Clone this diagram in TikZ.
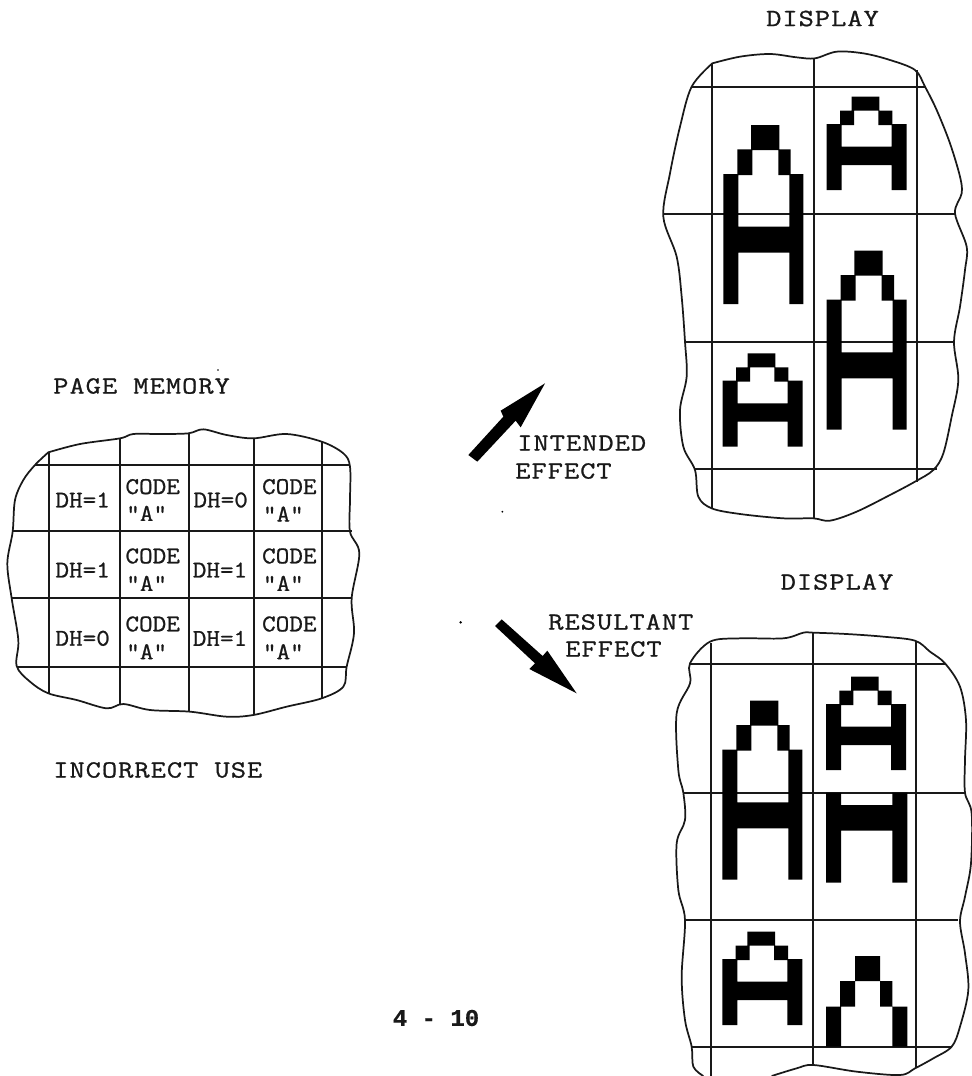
\documentclass[tikz,border=0pt]{standalone}
\usepackage{fontspec}
\newfontfamily\labelfont{Latin Modern Mono}[LetterSpace=4,FakeStretch=1.2,FakeBold=0.9]
\newfontfamily\cellfont{Latin Modern Mono}[FakeStretch=1.1,FakeBold=0.9]
\newfontfamily\pagefont{Liberation Mono}[FakeBold=0.5]
\newcommand{\tallglyphat}[2]{%
  \fill[glyph,shift={(#1,#2)}] (83,0) rectangle (168,75) (42,73) rectangle (87,150) (165,73) rectangle (202,150)
      (0,147) rectangle (45,537) (198,147) rectangle (240,537) (0,305) rectangle (240,383);}
\newcommand{\shortglyphat}[2]{%
  \fill[glyph,shift={(#1,#2)}] (75,0) rectangle (158,42) (40,42) rectangle (82,85) (155,42) rectangle (197,85)
      (0,82) rectangle (45,280) (195,82) rectangle (240,280) (0,150) rectangle (240,205);}
\tikzset{
  outline/.style={line width=1.3pt,line join=round,black!90},
  gridline/.style={line width=1.3pt,black!90},
  mark label/.style={inner sep=0pt,font=\labelfont\fontsize{18.5}{20}\selectfont,text=black!90},
  cell label/.style={inner sep=0pt,font=\cellfont\fontsize{18}{20}\selectfont,text=black!90},
  glyph/.style={fill=black},
}
\begin{document}
\begin{tikzpicture}[x=0.75pt,y=-0.75pt]
\useasboundingbox (0,0) rectangle (972,1076);
\fill[white] (0,0) rectangle (972,1076);

% Top display
\begin{scope}[shift={(650,30)},scale=0.33333]
\draw[outline] plot[smooth,tension=0.55] coordinates {(187,100)(270,80)(360,72)(440,82)(495,85)(560,65)(640,70)(720,90)(795,120)(825,170)(860,240)(900,340)(930,440)(935,490)(915,550)(950,650)(945,720)(930,830)(912,935)(925,1050)(905,1160)(880,1270)(850,1320)(795,1355)(720,1395)(620,1445)(540,1472)(490,1465)(400,1465)(270,1452)(185,1435)(145,1400)(135,1320)(100,1250)(90,1140)(110,1040)(105,935)(95,800)(80,680)(40,560)(60,430)(90,290)(125,170)(187,100)};
\draw[gridline] (185,100)--(185,1435) (493,85)--(493,1465) (800,120)--(800,1355)
  (125,170)--(825,170) (40,552)--(915,552) (105,935)--(912,935) (135,1317)--(860,1317);
\tallglyphat{220}{285}
\shortglyphat{530}{200}
\tallglyphat{530}{662}
\shortglyphat{218}{970}
\end{scope}

% Bottom display
\begin{scope}[shift={(640,610)},scale=0.33333]
\draw[outline] plot[smooth,tension=0.55] coordinates {(190,1398)(160,1370)(155,1310)(135,1230)(125,1100)(135,930)(115,840)(110,700)(135,630)(130,548)(115,480)(110,310)(150,220)(150,160)(210,95)(300,85)(430,85)(490,68)(520,68)(620,72)(730,80)(825,92)(870,125)(915,160)(960,230)(978,330)(975,450)(975,548)(995,610)(993,760)(975,860)(960,935)(975,1030)(985,1140)(960,1250)(935,1310)(880,1345)(825,1375)(780,1395)(650,1385)(520,1365)(470,1375)(395,1398)};
\draw[gridline] (212,100)--(212,1398) (520,68)--(520,1365) (827,92)--(827,1375)
  (150,163)--(915,163) (130,548)--(975,548) (135,930)--(955,930) (155,1310)--(935,1310);
\tallglyphat{247}{272}
\shortglyphat{558}{200}
\shortglyphat{247}{965}
\fill[glyph] (558,548) rectangle (603,818) (757,548) rectangle (802,818) (558,585) rectangle (802,662);
\fill[glyph] (645,1038) rectangle (720,1113) (600,1113) rectangle (645,1190) (720,1113) rectangle (757,1190)
  (558,1190) rectangle (603,1310) (757,1190) rectangle (802,1310);
\end{scope}

% Page memory
\begin{scope}[shift={(0,420)},scale=0.33333]
\draw[outline] plot[smooth,tension=0.55] coordinates {(145,97)(240,72)(360,55)(400,42)(480,42)(565,40)(610,28)(680,45)(760,55)(860,42)(965,65)(1030,100)(1050,140)(1050,240)(1050,335)(1078,400)(1055,535)(1062,640)(1040,740)(1030,800)(965,835)(860,860)(760,885)(680,890)(570,875)(450,870)(370,852)(320,865)(230,840)(145,820)(90,785)(50,738)(55,660)(35,535)(22,430)(38,335)(45,240)(70,180)(105,135)(145,97)};
\draw[gridline] (147,97)--(147,822) (361,55)--(361,855) (567,40)--(567,875) (762,55)--(762,885) (965,65)--(965,835)
  (105,135)--(1048,135) (38,333)--(1055,333) (35,535)--(1055,535) (50,740)--(1040,740);
\node[cell label] (dh11) at (248,240) {DH=1};
\node[cell label] (code11) at (458,200) {CODE};
\node[cell label] (a11) at (440,280) {"A"};
\node[cell label] (dh12) at (662,240) {DH=0};
\node[cell label] (code12) at (868,200) {CODE};
\node[cell label] (a12) at (850,282) {"A"};
\node[cell label] (dh21) at (248,450) {DH=1};
\node[cell label] (code21) at (458,408) {CODE};
\node[cell label] (a21) at (440,490) {"A"};
\node[cell label] (dh22) at (660,450) {DH=1};
\node[cell label] (code22) at (868,408) {CODE};
\node[cell label] (a22) at (850,490) {"A"};
\node[cell label] (dh31) at (248,655) {DH=0};
\node[cell label] (code31) at (458,612) {CODE};
\node[cell label] (a31) at (440,695) {"A"};
\node[cell label] (dh32) at (660,655) {DH=1};
\node[cell label] (code32) at (868,612) {CODE};
\node[cell label] (a32) at (850,695) {"A"};
\end{scope}

% Block arrows
\begin{scope}[shift={(450,370)},scale=0.33333]
\fill[black] (55,255)--(160,140)--(152,122)--(285,40)--(212,172)--(197,152)--(82,275)--cycle;
\fill[black] (135,768)--(155,748)--(278,858)--(292,842)--(380,970)--(238,897)--(255,880)--cycle;
\fill[black] (157,425) circle (3);
\fill[black] (32,757) circle (4);
\end{scope}
\fill[black] (218,370) circle (0.9);

% Labels
\node[mark label] (disp1) at (822.5,18.5) {DISPLAY};
\node[mark label] (disp2) at (837,582) {DISPLAY};
\node[mark label,anchor=west] (pagemem) at (53,386) {PAGE MEMORY};
\node[mark label,anchor=west] (incorrect) at (53,770) {INCORRECT USE};
\node[mark label,anchor=west] (intended) at (517,443) {INTENDED};
\node[mark label,anchor=west] (effect1) at (515,471) {EFFECT};
\node[mark label,anchor=west] (resultant) at (548,622) {RESULTANT};
\node[mark label,anchor=west] (effect2) at (565,649) {EFFECT};
\node[inner sep=0pt,font=\pagefont\bfseries\fontsize{18}{20}\selectfont,text=black!90] (pageno) at (436,1018) {4 - 10};
\end{tikzpicture}
\end{document}
